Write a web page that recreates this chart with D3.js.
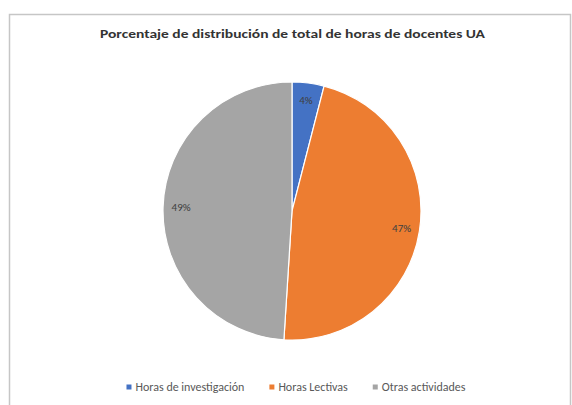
<!DOCTYPE html>
<html>
<head>
<meta charset="utf-8">
<script src="https://cdn.jsdelivr.net/npm/d3@7"></script>
<style>
  html, body { margin: 0; padding: 0; background: #fff; }
  svg { display: block; }
</style>
</head>
<body>
<svg id="chart" width="572" height="405"></svg>
<script>
const title = "Porcentaje de distribución de total de horas de docentes UA";
const categories = ["Horas de investigación", "Horas Lectivas", "Otras actividades"];
const values = [4, 47, 49];
const labels = ["4%", "47%", "49%"];
const colors = ["#4472C4", "#ED7D31", "#A5A5A5"];

const svg = d3.select("#chart");
const font = "Calibri, Carlito, 'Liberation Sans', Arial, sans-serif";

// chart area border
svg.append("rect")
  .attr("x", 9.5).attr("y", 14.5)
  .attr("width", 561).attr("height", 420)
  .attr("fill", "#fff")
  .attr("stroke", "#c6c6c6").attr("stroke-width", 1.5);

// title
svg.append("text")
  .attr("x", 292.5).attr("y", 38)
  .attr("text-anchor", "middle")
  .attr("font-family", font)
  .attr("font-size", 12.5)
  .attr("font-weight", "bold")
  .attr("fill", "#333")
  .attr("textLength", 385)
  .attr("lengthAdjust", "spacingAndGlyphs")
  .text(title);

const cx = 292, cy = 211, r = 129;
const g = svg.append("g").attr("transform", `translate(${cx},${cy})`);

const pie = d3.pie().sort(null).value(d => d);
const arcs = pie(values);
const arc = d3.arc().innerRadius(0).outerRadius(r);

g.selectAll("path.slice")
  .data(arcs)
  .join("path")
  .attr("class", "slice")
  .attr("d", arc)
  .attr("fill", (d, i) => colors[i])
  .attr("stroke", "#fff")
  .attr("stroke-width", 1.2);

const labelArc = d3.arc().innerRadius(r * 0.86).outerRadius(r * 0.86);
g.selectAll("text.lbl")
  .data(arcs)
  .join("text")
  .attr("class", "lbl")
  .attr("transform", d => `translate(${labelArc.centroid(d)})`)
  .attr("text-anchor", "middle")
  .attr("dominant-baseline", "central")
  .attr("font-family", font)
  .attr("font-size", 11)
  .attr("fill", "#404040")
  .text((d, i) => labels[i]);

// legend
const legend = svg.append("g");
const items = legend.selectAll("g.item")
  .data(categories)
  .join("g")
  .attr("class", "item");
items.append("rect")
  .attr("width", 5).attr("height", 5)
  .attr("y", -2.5)
  .attr("fill", (d, i) => colors[i]);
items.append("text")
  .attr("x", 9)
  .attr("dominant-baseline", "central")
  .attr("font-family", font)
  .attr("font-size", 12)
  .attr("fill", "#595959")
  .text(d => d);

const gap = 25;
let widths = [];
items.each(function() {
  widths.push(9 + this.querySelector("text").getComputedTextLength());
});
const total = d3.sum(widths) + gap * (widths.length - 1);
let x0 = 296 - total / 2;
items.attr("transform", (d, i) => {
  const x = x0 + d3.sum(widths.slice(0, i)) + gap * i;
  return `translate(${x},387)`;
});
</script>
</body>
</html>
